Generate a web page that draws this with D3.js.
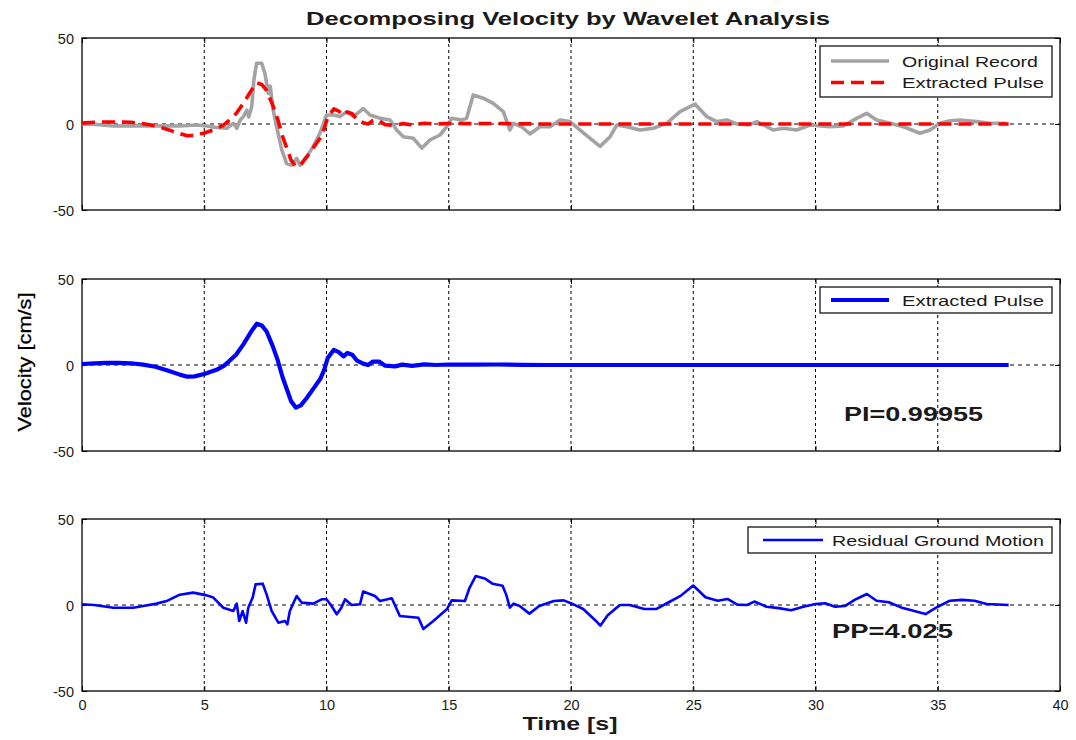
<!DOCTYPE html>
<html>
<head>
<meta charset="utf-8">
<script src="https://cdn.jsdelivr.net/npm/d3@7"></script>
<style>
  html, body { margin: 0; padding: 0; background: #fff; }
  svg { display: block; font-family: "Liberation Sans", Arial, sans-serif; }
</style>
</head>
<body>
<svg id="chart" width="1076" height="740"></svg>
<script>
// ---------------- data ----------------
const chartTitle = "Decomposing Velocity by Wavelet Analysis";
const xLabel = "Time [s]";
const yLabel = "Velocity [cm/s]";
const timeTicks = [0, 5, 10, 15, 20, 25, 30, 35, 40];
const velocityTicks = [-50, 0, 50];
const legendPanel1 = ["Original Record", "Extracted Pulse"];
const legendPanel2 = ["Extracted Pulse"];
const legendPanel3 = ["Residual Ground Motion"];
const pulseIndicator = "PI=0.99955";
const pulsePeriod = "PP=4.025";

// [time s, velocity cm/s]
const originalRecord = [
  [0,0],[0.6,-0.3],[1.28,-1.2],[2.0,-1.0],[2.65,-1.2],[3.3,-1.0],[4.0,-1.2],[4.69,-0.6],[5.1,-1.2],
  [5.5,-2],[5.92,-2.5],[6.19,0.4],[6.33,-2.5],[6.47,2.3],[6.6,4.3],[6.74,8],[6.82,4],[6.94,10],
  [7.03,25.6],[7.14,35.3],[7.35,35.3],[7.48,29.5],[7.62,17.8],[7.7,22],[7.82,8],[7.96,-1.5],
  [8.17,-15],[8.37,-23],[8.58,-24],[8.78,-20],[8.92,-24],[9.19,-19],[9.46,-13],[9.73,-5.4],
  [10.0,5.2],[10.28,5.2],[10.55,4.3],[10.83,7.2],[11.1,4.3],[11.5,9],[11.78,5.2],[12.19,3.3],
  [12.6,2.3],[12.87,-3.5],[13.14,-7.4],[13.55,-8.3],[13.9,-14],[14.23,-9.3],[14.64,-6.4],
  [14.92,-1.5],[15.12,3.3],[15.53,2.3],[15.73,3.3],[16.0,16.9],[16.41,15],[16.82,12],[17.23,7.2],
  [17.5,-3.5],[17.64,0.4],[17.98,-1.6],[18.32,-5.8],[18.73,-1.6],[19.14,-1.6],[19.55,2.3],
  [19.96,1.4],[20.37,-3.5],[20.78,-8.3],[21.19,-13],[21.6,-7.4],[21.87,-0.6],[22.28,-1.6],
  [22.82,-3.5],[23.37,-2.5],[23.91,0.4],[24.46,7.2],[25.07,11.6],[25.55,4.3],[25.96,1.4],
  [26.37,2.3],[26.78,0],[27.25,-0.6],[27.6,1.4],[28.27,-3.5],[28.68,-2.5],[29.23,-3.5],
  [29.78,-0.6],[30.59,-1.6],[31.14,-1.2],[31.68,3.3],[32.09,6.2],[32.5,2.3],[33.05,0.4],
  [33.6,-1.6],[34.27,-5.4],[34.68,-3.5],[35.09,0.4],[35.5,1.9],[35.91,2.3],[36.59,1.4],
  [37.14,0.4],[37.82,0.4]
];

const extractedPulse = [
  [0,0.5],[0.5,1],[1,1.2],[1.5,1.2],[2,1],[2.5,0.2],[3,-1],[3.5,-3.2],[4,-5.6],[4.3,-6.8],
  [4.6,-6.6],[5,-5.2],[5.5,-2.8],[5.8,-0.5],[6,2],[6.3,6],[6.6,12],[6.9,19],[7.15,24],[7.35,23],
  [7.55,19.5],[7.8,11],[8.0,3],[8.2,-7],[8.4,-15],[8.55,-21],[8.75,-24.8],[8.95,-23.5],[9.2,-19],
  [9.5,-13],[9.75,-8],[9.9,-3],[10.05,4],[10.3,8.8],[10.5,7.5],[10.7,5],[10.85,7],[11.05,6],
  [11.25,2.5],[11.5,0.8],[11.7,0],[11.9,2],[12.15,2],[12.4,-0.4],[12.8,-0.8],[13.1,0.2],
  [13.5,-0.5],[14,0.4],[14.5,0],[15,0.3],[16,0.2],[17,0.3],[18,0.1],[19,0],[25,0],[30,0],
  [35,0],[37.9,0]
];

const residualMotion = [
  [0,0.4],[0.5,0],[1.28,-1.6],[2.1,-1.6],[2.5,-0.6],[3.05,0.8],[3.5,2.5],[4.0,6.0],[4.55,7.2],
  [5.1,5.6],[5.37,4.3],[5.78,-1.6],[6.19,-3.5],[6.33,0.8],[6.43,-9.3],[6.57,-3.5],[6.71,-10.3],
  [6.8,-1.6],[6.98,4.3],[7.1,12],[7.39,12.4],[7.55,6.2],[7.76,-3.5],[8.03,-10.3],[8.3,-9.3],
  [8.4,-11.2],[8.5,-3.5],[8.78,5.2],[8.98,1.4],[9.46,0.8],[9.8,3.3],[10.0,3.3],[10.2,-0.4],
  [10.42,-5.4],[10.6,-1.8],[10.76,3.3],[11.03,0],[11.37,0.4],[11.5,7.8],[11.98,5.2],[12.19,2.3],
  [12.67,3.9],[13.0,-6.4],[13.76,-7.4],[13.96,-14],[14.37,-9.3],[14.92,-2.5],[15.12,2.7],
  [15.66,2.3],[15.85,10],[16.1,16.8],[16.5,15.2],[16.8,12.3],[17.2,11.2],[17.35,6],[17.5,-1.5],
  [17.65,0.8],[17.9,-0.6],[18.3,-5],[18.7,-0.6],[19.3,2.3],[19.7,2.7],[20.1,0.4],[20.5,-2.3],
  [21,-9],[21.2,-12],[21.5,-6],[22,0],[22.4,0],[23,-2.3],[23.5,-2.3],[24,1.6],[24.5,5.5],
  [25,11.3],[25.5,4.5],[26,2.5],[26.4,3.5],[26.8,0.2],[27.2,0],[27.5,2],[28,-1],[28.5,-1.8],
  [29,-3],[29.5,-1],[30,0.6],[30.4,1],[30.8,-1],[31.2,-0.6],[31.6,3],[32.1,6.4],[32.5,2.5],
  [33,1.6],[33.5,-1.4],[34,-3.3],[34.5,-5.3],[35,-1],[35.5,2.5],[36,3],[36.5,2.5],[37,0.6],
  [37.9,0]
];

// ---------------- layout ----------------
const svg = d3.select("#chart");
const plotLeft = 82, plotRight = 1060;
const panelTops = [38, 279, 519];
const panelH = 172;
const x = d3.scaleLinear().domain([0, 40]).range([plotLeft, plotRight]);
const ink = "#1a1a1a";
const plainNum = d => String(d);

function makePanel(top, showXLabels) {
  const y = d3.scaleLinear().domain([-50, 50]).range([top + panelH, top]);
  const g = svg.append("g");
  // vertical dotted grid
  g.selectAll("line.vg").data(timeTicks.filter(t => t > 0 && t < 40)).join("line")
    .attr("x1", d => x(d)).attr("x2", d => x(d))
    .attr("y1", top).attr("y2", top + panelH)
    .attr("stroke", "#000").attr("stroke-width", 1).attr("stroke-dasharray", "3,3");
  // horizontal zero grid
  g.append("line")
    .attr("x1", plotLeft).attr("x2", plotRight).attr("y1", y(0)).attr("y2", y(0))
    .attr("stroke", "#000").attr("stroke-width", 1).attr("stroke-dasharray", "4,4");
  // axes
  const xa = d3.axisBottom(x).tickValues(timeTicks).tickSize(-5).tickPadding(9)
    .tickFormat(showXLabels ? plainNum : () => "");
  const gx = g.append("g").attr("transform", `translate(0,${top + panelH})`).call(xa);
  const xt = d3.axisTop(x).tickValues(timeTicks).tickSize(-5).tickFormat(() => "");
  const gxt = g.append("g").attr("transform", `translate(0,${top})`).call(xt);
  const ya = d3.axisLeft(y).tickValues(velocityTicks).tickSize(-5).tickPadding(8).tickFormat(plainNum);
  const gy = g.append("g").attr("transform", `translate(${plotLeft},0)`).call(ya);
  const yr = d3.axisRight(y).tickValues(velocityTicks).tickSize(-5).tickFormat(() => "");
  const gyr = g.append("g").attr("transform", `translate(${plotRight},0)`).call(yr);
  [gx, gxt, gy, gyr].forEach(a => {
    a.select(".domain").remove();
    a.selectAll("line").attr("stroke", "#000");
    a.selectAll("text").attr("font-size", 14.5).attr("fill", ink)
      .attr("font-family", "'Liberation Sans', Arial, sans-serif");
  });
  gy.selectAll("text").attr("dy", "0.36em");
  g.append("rect").attr("x", plotLeft).attr("y", top)
    .attr("width", plotRight - plotLeft).attr("height", panelH)
    .attr("fill", "none").attr("stroke", "#000").attr("stroke-width", 1.3);
  return { g, y };
}

function drawLine(panel, data, color, width, dash) {
  const line = d3.line().x(d => x(d[0])).y(d => panel.y(d[1]));
  const p = panel.g.append("path").datum(data).attr("d", line)
    .attr("fill", "none").attr("stroke", color).attr("stroke-width", width)
    .attr("stroke-linejoin", "round").attr("stroke-linecap", "butt");
  if (dash) p.attr("stroke-dasharray", dash);
  return p;
}

function legend(box, items) {
  const lg = svg.append("g");
  lg.append("rect").attr("x", box.x).attr("y", box.y).attr("width", box.w).attr("height", box.h)
    .attr("fill", "#fff").attr("stroke", "#000").attr("stroke-width", 1.2);
  items.forEach(it => {
    const l = lg.append("line").attr("x1", it.x1).attr("x2", it.x2).attr("y1", it.y).attr("y2", it.y)
      .attr("stroke", it.color).attr("stroke-width", it.width);
    if (it.dash) l.attr("stroke-dasharray", it.dash);
    lg.append("text").attr("x", it.tx).attr("y", it.y + 5.5).text(it.label)
      .attr("font-size", 15).attr("fill", ink)
      .attr("textLength", it.tl).attr("lengthAdjust", "spacingAndGlyphs");
  });
}

// Panel 1
const p1 = makePanel(panelTops[0], false);
drawLine(p1, originalRecord, "#a3a3a6", 3.6);
drawLine(p1, extractedPulse, "#ff0000", 3.6, "13,7");
legend({ x: 820, y: 46, w: 232, h: 51 }, [
  { x1: 831, x2: 889, y: 61, color: "#a3a3a6", width: 3.6, tx: 902, label: legendPanel1[0], tl: 136 },
  { x1: 831, x2: 889, y: 82.5, color: "#ff0000", width: 3.6, dash: "13,7", tx: 902, label: legendPanel1[1], tl: 142 }
]);

// Panel 2
const p2 = makePanel(panelTops[1], false);
drawLine(p2, extractedPulse, "#0000ff", 4.2);
legend({ x: 820, y: 287, w: 232, h: 26 }, [
  { x1: 831, x2: 889, y: 300, color: "#0000ff", width: 4.2, tx: 902, label: legendPanel2[0], tl: 142 }
]);
svg.append("text").attr("x", 844).attr("y", 421).text(pulseIndicator)
  .attr("font-size", 20).attr("font-weight", "bold").attr("fill", ink)
  .attr("textLength", 139).attr("lengthAdjust", "spacingAndGlyphs");

// Panel 3
const p3 = makePanel(panelTops[2], true);
drawLine(p3, residualMotion, "#0000ff", 2.6);
legend({ x: 748, y: 527, w: 304, h: 26 }, [
  { x1: 763, x2: 823, y: 540, color: "#0000ff", width: 2.6, tx: 832, label: legendPanel3[0], tl: 212 }
]);
svg.append("text").attr("x", 832).attr("y", 638).text(pulsePeriod)
  .attr("font-size", 20).attr("font-weight", "bold").attr("fill", ink)
  .attr("textLength", 121).attr("lengthAdjust", "spacingAndGlyphs");

// Title and axis labels
svg.append("text").attr("x", 568).attr("y", 25).attr("text-anchor", "middle").text(chartTitle)
  .attr("font-size", 18).attr("font-weight", "bold").attr("fill", ink)
  .attr("textLength", 524).attr("lengthAdjust", "spacingAndGlyphs");
svg.append("text").attr("x", 570).attr("y", 730).attr("text-anchor", "middle").text(xLabel)
  .attr("font-size", 19).attr("font-weight", "bold").attr("fill", ink)
  .attr("textLength", 95).attr("lengthAdjust", "spacingAndGlyphs");
svg.append("text").attr("transform", "translate(31,362) rotate(-90)").attr("text-anchor", "middle")
  .text(yLabel).attr("font-size", 19).attr("fill", "#000").attr("stroke", "#000").attr("stroke-width", 0.3)
  .attr("textLength", 139).attr("lengthAdjust", "spacingAndGlyphs");
</script>
</body>
</html>
